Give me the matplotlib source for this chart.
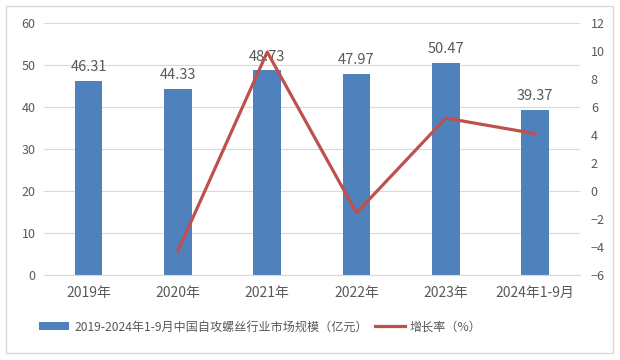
import matplotlib
matplotlib.use("Agg")
import matplotlib.pyplot as plt
from matplotlib.patches import Rectangle

plt.rcParams['font.family'] = ['Noto Sans CJK SC', 'DejaVu Sans']

categories = ["2019年", "2020年", "2021年", "2022年", "2023年", "2024年1-9月"]
market_size = [46.31, 44.33, 48.73, 47.97, 50.47, 39.37]
growth_x = ["2020年", "2021年", "2022年", "2023年", "2024年1-9月"]
growth_rate = [-4.28, 9.93, -1.56, 5.21, 4.1]
left_ticks = [0, 10, 20, 30, 40, 50, 60]
right_ticks = [-6, -4, -2, 0, 2, 4, 6, 8, 10, 12]

bar_label = "2019-2024年1-9月中国自攻螺丝行业市场规模（亿元）"
line_label = "增长率（%）"

text_color = "#595959"
bar_color = "#4F81BD"
line_color = "#C0504D"
grid_color = "#D9D9D9"

fig = plt.figure(figsize=(6.2, 3.6), dpi=100)
fig.patches.append(Rectangle((0.01, 0.02), 0.978, 0.962, transform=fig.transFigure,
                             fill=False, edgecolor="#D9D9D9", linewidth=1))
ax = fig.add_axes([0.071, 0.236, 0.864, 0.700])
ax2 = ax.twinx()

x = list(range(len(categories)))
bars = ax.bar(x, market_size, width=0.31, color=bar_color, zorder=2, label=bar_label)
for xi, v in zip(x, market_size):
    ax.text(xi, v + 1.6, f"{v:.2f}", ha="center", va="bottom", fontsize=10.5,
            color=text_color, zorder=5)

gx = [categories.index(c) for c in growth_x]
line, = ax2.plot(gx, growth_rate, color=line_color, linewidth=2.3, label=line_label, zorder=3)

ax.set_xlim(-0.5, len(categories) - 0.5)
ax.set_ylim(0, 60)
ax.set_yticks(left_ticks)
ax2.set_ylim(-6, 12)
ax2.set_yticks(right_ticks)
ax.set_xticks(x)
ax.set_xticklabels(categories)

ax.yaxis.grid(True, color=grid_color, linewidth=0.8, zorder=0)
ax.set_axisbelow(True)
for a in (ax, ax2):
    for s in a.spines.values():
        s.set_visible(False)
    a.tick_params(length=0, colors=text_color, labelsize=9)
ax.spines['bottom'].set_visible(True)
ax.spines['bottom'].set_color(grid_color)
ax.tick_params(axis='x', pad=8, labelsize=10)
ax.tick_params(axis='y', pad=6)
ax2.tick_params(axis='y', pad=8)

leg = fig.legend(handles=[bars, line], labels=[bar_label, line_label],
                 loc="center", bbox_to_anchor=(0.42, 0.092), ncol=2, frameon=False,
                 fontsize=8.7, handlelength=2.5, handletextpad=0.4, columnspacing=0.6)
for t in leg.get_texts():
    t.set_color(text_color)

fig.savefig("out.png", dpi=100)
